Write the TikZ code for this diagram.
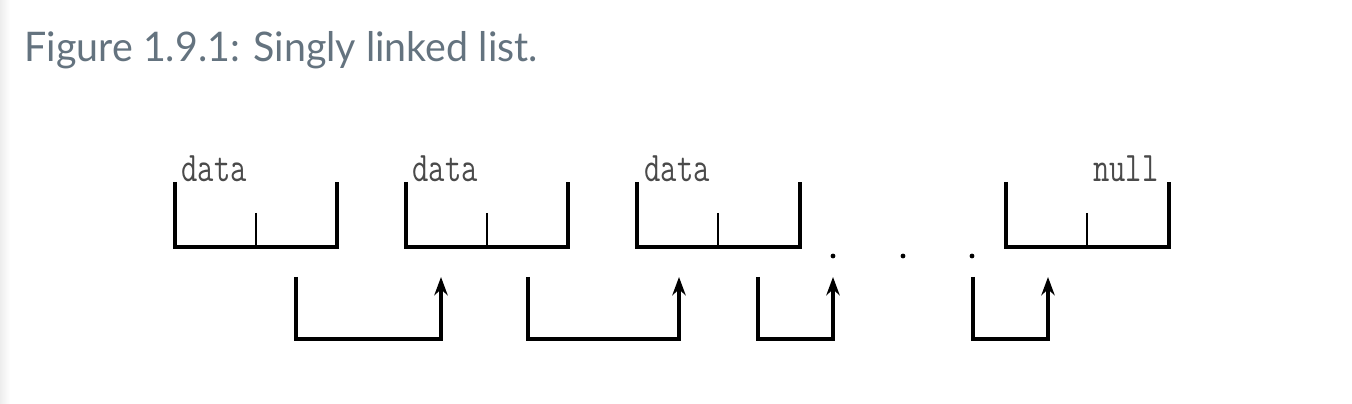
\documentclass[tikz,border=0pt]{standalone}
\usepackage{fontspec}
\usetikzlibrary{arrows.meta}
\newfontfamily\titlefont{Lato}
\definecolor{titlegray}{HTML}{64737F}
\definecolor{textgray}{HTML}{4A4A4A}
\tikzset{
  listline/.style={line width=1.1pt, black},
  divline/.style={line width=0.8pt, black},
  linkline/.style={line width=1.1pt, black, -{Stealth[length=5.2pt,width=3.8pt]}},
  fieldtext/.style={font=\ttfamily\fontsize{12}{12}\selectfont, text=textgray, inner sep=0pt, xscale=0.75}
}
\begin{document}
\begin{tikzpicture}[x=0.01cm, y=-0.01cm]
    \useasboundingbox (0,0) rectangle (1352,404);
    \shade [left color=black!7, right color=white] (0,0) rectangle (10,404);
    \node [font=\titlefont\fontsize{11.6}{12}\selectfont, text=titlegray, anchor=base west, inner sep=0pt, xscale=0.965] (title) at (24,62) {Figure 1.9.1: Singly linked list.};
    \coordinate (L1) at (175,182);
    \coordinate (B1) at (175,247);
    \coordinate (C1) at (337,247);
    \coordinate (R1) at (337,182);
    \coordinate (L2) at (406,182);
    \coordinate (B2) at (406,247);
    \coordinate (C2) at (568,247);
    \coordinate (R2) at (568,182);
    \coordinate (L3) at (637,182);
    \coordinate (B3) at (637,247);
    \coordinate (C3) at (800,247);
    \coordinate (R3) at (800,182);
    \coordinate (L4) at (1006,182);
    \coordinate (B4) at (1006,247);
    \coordinate (C4) at (1169,247);
    \coordinate (R4) at (1169,182);
    \draw [listline] (L1) -- (B1) -- (C1) -- (R1);
    \draw [listline] (L2) -- (B2) -- (C2) -- (R2);
    \draw [listline] (L3) -- (B3) -- (C3) -- (R3);
    \draw [listline] (L4) -- (B4) -- (C4) -- (R4);
    \coordinate (M1) at (256,213);
    \coordinate (M2) at (487,213);
    \coordinate (M3) at (718,213);
    \coordinate (M4) at (1087,213);
    \draw [divline] (M1) -- (256,247);
    \draw [divline] (M2) -- (487,247);
    \draw [divline] (M3) -- (718,247);
    \draw [divline] (M4) -- (1087,247);
    \node [fieldtext, anchor=base west] (d1) at (181,182) {data};
    \node [fieldtext, anchor=base west] (d2) at (412,182) {data};
    \node [fieldtext, anchor=base west] (d3) at (644,182) {data};
    \node [fieldtext, anchor=base east] (nl) at (1159,182) {null};
    \coordinate (S1) at (296,277);
    \coordinate (T1) at (441,277);
    \coordinate (S2) at (528,277);
    \coordinate (T2) at (679,277);
    \coordinate (S3) at (758,277);
    \coordinate (T3) at (833,277);
    \coordinate (S4) at (973,277);
    \coordinate (T4) at (1048,277);
    \draw [linkline] (S1) -- (296,339) -- (441,339) -- (T1);
    \draw [linkline] (S2) -- (528,339) -- (679,339) -- (T2);
    \draw [linkline] (S3) -- (758,339) -- (833,339) -- (T3);
    \draw [linkline] (S4) -- (973,339) -- (1048,339) -- (T4);
    \fill (833,256) circle (2.4);
    \fill (903,256) circle (2.4);
    \fill (972,256) circle (2.4);
\end{tikzpicture}
\end{document}
